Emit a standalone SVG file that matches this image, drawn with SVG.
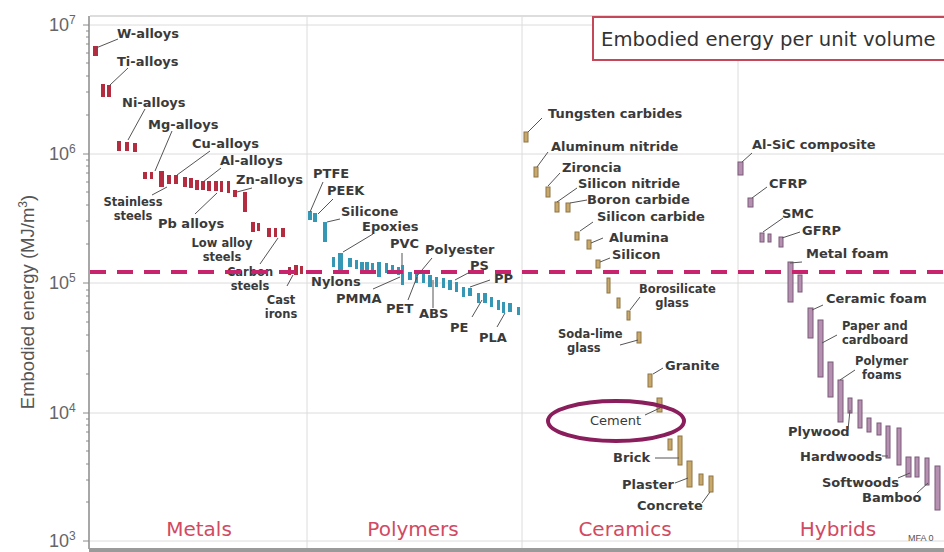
<svg xmlns="http://www.w3.org/2000/svg" width="944" height="552" viewBox="0 0 944 552">
<style>
.grid{stroke:#dcdcdc;stroke-width:1;fill:none}
.axis{stroke:#8a8a8a;stroke-width:1.5;fill:none}
.tick{stroke:#8a8a8a;stroke-width:1}
.tl{font-family:"Liberation Sans",Arial,sans-serif;font-size:18px;fill:#666}
.ts{font-family:"Liberation Sans",Arial,sans-serif;font-size:12px;fill:#666}
.lb{font-family:"DejaVu Sans",sans-serif;font-weight:bold;font-size:13px;fill:#3a3a3a}
.l2{font-size:11.5px}
.cat{font-family:"DejaVu Sans",sans-serif;font-size:20px;fill:#d24a62;text-anchor:middle}
.ld{stroke:#555;stroke-width:1;fill:none}
.m rect{fill:#b32c40}
.p rect{fill:#3597b3}
.c rect{fill:#c9a86c;stroke:#8e7444;stroke-width:1}
.h rect{fill:#b590b0;stroke:#7b5b79;stroke-width:1}
.mid{text-anchor:middle}
</style>
<rect width="944" height="552" fill="#fff"/>
<g id="frame">
<line class="grid" x1="90" y1="16" x2="944" y2="16" style="stroke:#bbb"/>
<line class="grid" x1="90" y1="25" x2="944" y2="25"/>
<line class="grid" x1="90" y1="154" x2="944" y2="154"/>
<line class="grid" x1="90" y1="283" x2="944" y2="283"/>
<line class="grid" x1="90" y1="413" x2="944" y2="413"/>
<line class="grid" x1="90" y1="541" x2="944" y2="541"/>
<line class="grid" x1="307" y1="16" x2="307" y2="548"/>
<line class="grid" x1="522" y1="16" x2="522" y2="548"/>
<line class="grid" x1="738" y1="16" x2="738" y2="548"/>
<line class="axis" x1="89" y1="16" x2="89" y2="549"/>
<rect x="89" y="548" width="855" height="4" fill="#9a9a9a"/>
<g class="tick">
<line x1="83" y1="25" x2="89" y2="25"/><line x1="83" y1="154" x2="89" y2="154"/><line x1="83" y1="283" x2="89" y2="283"/><line x1="83" y1="413" x2="89" y2="413"/><line x1="83" y1="541" x2="89" y2="541"/>
<line x1="86" y1="115" x2="89" y2="115"/><line x1="86" y1="92" x2="89" y2="92"/><line x1="86" y1="76" x2="89" y2="76"/><line x1="86" y1="63" x2="89" y2="63"/><line x1="86" y1="53" x2="89" y2="53"/><line x1="86" y1="44" x2="89" y2="44"/><line x1="86" y1="37" x2="89" y2="37"/><line x1="86" y1="31" x2="89" y2="31"/>
<line x1="86" y1="244" x2="89" y2="244"/><line x1="86" y1="221" x2="89" y2="221"/><line x1="86" y1="205" x2="89" y2="205"/><line x1="86" y1="192" x2="89" y2="192"/><line x1="86" y1="182" x2="89" y2="182"/><line x1="86" y1="173" x2="89" y2="173"/><line x1="86" y1="166" x2="89" y2="166"/><line x1="86" y1="160" x2="89" y2="160"/>
<line x1="86" y1="374" x2="89" y2="374"/><line x1="86" y1="351" x2="89" y2="351"/><line x1="86" y1="335" x2="89" y2="335"/><line x1="86" y1="322" x2="89" y2="322"/><line x1="86" y1="312" x2="89" y2="312"/><line x1="86" y1="303" x2="89" y2="303"/><line x1="86" y1="296" x2="89" y2="296"/><line x1="86" y1="290" x2="89" y2="290"/>
<line x1="86" y1="502" x2="89" y2="502"/><line x1="86" y1="480" x2="89" y2="480"/><line x1="86" y1="464" x2="89" y2="464"/><line x1="86" y1="451" x2="89" y2="451"/><line x1="86" y1="441" x2="89" y2="441"/><line x1="86" y1="432" x2="89" y2="432"/><line x1="86" y1="425" x2="89" y2="425"/><line x1="86" y1="419" x2="89" y2="419"/>
</g>
<text class="tl" x="49" y="31">10<tspan class="ts" dy="-7">7</tspan></text>
<text class="tl" x="49" y="160">10<tspan class="ts" dy="-7">6</tspan></text>
<text class="tl" x="49" y="289">10<tspan class="ts" dy="-7">5</tspan></text>
<text class="tl" x="49" y="419">10<tspan class="ts" dy="-7">4</tspan></text>
<text class="tl" x="49" y="547">10<tspan class="ts" dy="-7">3</tspan></text>
<text transform="translate(34,302) rotate(-90)" text-anchor="middle" style="font-family:'Liberation Sans',Arial,sans-serif;font-size:18.5px;fill:#555">Embodied energy (MJ/m<tspan dy="-7" style="font-size:12px">3</tspan><tspan dy="7">)</tspan></text>
</g>
<g id="title">
<rect x="593" y="17" width="360" height="43" fill="#fff" stroke="#c4485a" stroke-width="2"/>
<text x="601" y="46" style="font-family:'DejaVu Sans',sans-serif;font-size:19.6px;fill:#333">Embodied energy per unit volume</text>
</g>
<g id="metals" class="m">
<rect x="93" y="46" width="5" height="10"/>
<rect x="101" y="84" width="4" height="13"/><rect x="107" y="85" width="4" height="12"/>
<rect x="117" y="141" width="4" height="10"/><rect x="125" y="142" width="4" height="9"/><rect x="133" y="143" width="4" height="9"/>
<rect x="143" y="172" width="4" height="7"/><rect x="150" y="172" width="3" height="7"/><rect x="159" y="171" width="5" height="16"/><rect x="167" y="175" width="4" height="9"/><rect x="174" y="175" width="4" height="9"/><rect x="183" y="177" width="4" height="10"/><rect x="189" y="178" width="4" height="10"/><rect x="195" y="180" width="4" height="10"/><rect x="201" y="181" width="4" height="9"/><rect x="207" y="181" width="4" height="10"/><rect x="214" y="181" width="4" height="10"/><rect x="220" y="181" width="3" height="11"/><rect x="227" y="181" width="3" height="12"/><rect x="233" y="190" width="4" height="7"/><rect x="243" y="192" width="4" height="20"/>
<rect x="251" y="222" width="4" height="10"/><rect x="257" y="223" width="3" height="8"/><rect x="267" y="228" width="4" height="9"/><rect x="274" y="228" width="3" height="9"/><rect x="281" y="228" width="4" height="9"/>
<rect x="288" y="267" width="3" height="8"/><rect x="294" y="265" width="4" height="10"/><rect x="300" y="266" width="3" height="8"/>
</g>
<g id="polymers" class="p">
<rect x="308" y="211" width="4" height="9"/><rect x="313" y="213" width="4" height="9"/><rect x="323" y="222" width="4" height="20"/>
<rect x="332" y="257" width="3" height="10"/><rect x="338" y="253" width="5" height="17"/><rect x="348" y="258" width="4" height="9"/><rect x="355" y="260" width="3" height="9"/><rect x="360" y="262" width="4" height="10"/><rect x="365" y="262" width="4" height="10"/><rect x="371" y="263" width="3" height="10"/><rect x="377" y="262" width="4" height="15"/><rect x="385" y="263" width="3" height="10"/><rect x="391" y="265" width="3" height="8"/><rect x="397" y="267" width="3" height="8"/><rect x="401" y="265" width="3" height="20"/><rect x="408" y="272" width="4" height="8"/><rect x="415" y="272" width="3" height="11"/><rect x="422" y="273" width="3" height="10"/><rect x="428" y="275" width="4" height="12"/><rect x="435" y="277" width="3" height="10"/><rect x="442" y="278" width="3" height="10"/><rect x="448" y="280" width="4" height="10"/><rect x="455" y="282" width="3" height="10"/><rect x="462" y="287" width="3" height="10"/><rect x="468" y="288" width="4" height="8"/><rect x="477" y="293" width="3" height="10"/><rect x="483" y="293" width="4" height="10"/><rect x="490" y="297" width="3" height="10"/><rect x="497" y="300" width="3" height="10"/><rect x="502" y="302" width="3" height="11"/><rect x="508" y="303" width="4" height="9"/><rect x="517" y="307" width="3" height="8"/>
</g>
<g id="ceramics" class="c">
<rect x="524" y="132" width="4" height="10"/>
<rect x="534" y="167" width="4" height="10"/>
<rect x="546" y="187" width="4" height="10"/>
<rect x="555" y="202" width="4" height="10"/><rect x="566" y="203" width="4" height="9"/>
<rect x="575" y="232" width="4" height="8"/><rect x="587" y="240" width="4" height="9"/><rect x="596" y="260" width="4" height="8"/>
<rect x="607" y="278" width="3" height="15"/><rect x="617" y="298" width="3" height="10"/><rect x="627" y="311" width="3" height="9"/><rect x="637" y="332" width="4" height="11"/>
<rect x="648" y="374" width="4" height="13"/><rect x="657" y="398" width="5" height="14"/>
<rect x="668" y="439" width="4" height="11"/><rect x="678" y="436" width="4" height="29"/><rect x="687" y="461" width="5" height="26"/><rect x="699" y="474" width="4" height="11"/><rect x="709" y="476" width="4" height="16"/>
</g>
<g id="hybrids" class="h">
<rect x="738" y="162" width="5" height="13"/>
<rect x="748" y="198" width="5" height="9"/>
<rect x="760" y="233" width="4" height="9"/><rect x="768" y="234" width="3" height="8"/><rect x="779" y="237" width="4" height="10"/>
<rect x="788" y="262" width="5" height="40"/><rect x="798" y="275" width="4" height="17"/>
<rect x="808" y="308" width="5" height="30"/><rect x="818" y="320" width="5" height="57"/><rect x="828" y="362" width="5" height="35"/><rect x="838" y="380" width="5" height="42"/><rect x="848" y="398" width="4" height="15"/><rect x="858" y="400" width="4" height="28"/><rect x="867" y="418" width="4" height="14"/><rect x="877" y="423" width="4" height="12"/><rect x="886" y="426" width="4" height="32"/><rect x="897" y="428" width="4" height="37"/><rect x="906" y="457" width="5" height="20"/><rect x="915" y="457" width="4" height="20"/><rect x="925" y="458" width="4" height="27"/><rect x="935" y="466" width="5" height="44"/>
</g>
<g id="labels">
<text class="lb" x="117" y="38">W-alloys</text>
<text class="lb" x="117" y="66">Ti-alloys</text>
<text class="lb" x="122" y="107">Ni-alloys</text>
<text class="lb" x="148" y="129">Mg-alloys</text>
<text class="lb" x="192" y="148">Cu-alloys</text>
<text class="lb" x="220" y="165">Al-alloys</text>
<text class="lb" x="236" y="184">Zn-alloys</text>
<text class="lb l2 mid" x="133" y="206">Stainless<tspan x="133" dy="14">steels</tspan></text>
<text class="lb" x="158" y="228">Pb alloys</text>
<text class="lb l2 mid" x="222" y="247">Low alloy<tspan x="222" dy="14">steels</tspan></text>
<text class="lb l2 mid" x="250" y="276">Carbon<tspan x="250" dy="14">steels</tspan></text>
<text class="lb l2 mid" x="281" y="304">Cast<tspan x="281" dy="14">irons</tspan></text>
<text class="lb" x="313" y="178">PTFE</text>
<text class="lb" x="327" y="195">PEEK</text>
<text class="lb" x="341" y="216">Silicone</text>
<text class="lb" x="362" y="231">Epoxies</text>
<text class="lb" x="390" y="248">PVC</text>
<text class="lb" x="425" y="254">Polyester</text>
<text class="lb" x="470" y="270">PS</text>
<text class="lb" x="494" y="283">PP</text>
<text class="lb" x="311" y="286">Nylons</text>
<text class="lb" x="336" y="303">PMMA</text>
<text class="lb" x="386" y="313">PET</text>
<text class="lb" x="419" y="318">ABS</text>
<text class="lb" x="450" y="332">PE</text>
<text class="lb" x="479" y="342">PLA</text>
<text class="lb" x="548" y="118">Tungsten carbides</text>
<text class="lb" x="551" y="151">Aluminum nitride</text>
<text class="lb" x="562" y="172">Zironcia</text>
<text class="lb" x="578" y="188">Silicon nitride</text>
<text class="lb" x="587" y="204">Boron carbide</text>
<text class="lb" x="597" y="221">Silicon carbide</text>
<text class="lb" x="609" y="242">Alumina</text>
<text class="lb" x="612" y="259">Silicon</text>
<text class="lb l2" x="639" y="293">Borosilicate<tspan x="672" dy="14" text-anchor="middle">glass</tspan></text>
<text class="lb l2" x="558" y="338">Soda-lime<tspan x="567" dy="14">glass</tspan></text>
<text class="lb" x="665" y="370">Granite</text>
<text class="lb" x="590" y="425" style="font-weight:normal">Cement</text>
<text class="lb" x="613" y="462">Brick</text>
<text class="lb" x="622" y="489">Plaster</text>
<text class="lb" x="637" y="510">Concrete</text>
<text class="lb" x="752" y="149">Al-SiC composite</text>
<text class="lb" x="769" y="188">CFRP</text>
<text class="lb" x="782" y="218">SMC</text>
<text class="lb" x="802" y="235">GFRP</text>
<text class="lb" x="806" y="258">Metal foam</text>
<text class="lb" x="826" y="303">Ceramic foam</text>
<text class="lb l2" x="842" y="330">Paper and<tspan x="842" dy="14">cardboard</tspan></text>
<text class="lb l2" x="855" y="365">Polymer<tspan x="862" dy="14">foams</tspan></text>
<text class="lb" x="788" y="436">Plywood</text>
<text class="lb" x="800" y="461">Hardwoods</text>
<text class="lb" x="822" y="487">Softwoods</text>
<text class="lb" x="862" y="502">Bamboo</text>
<text class="cat" x="199" y="536">Metals</text>
<text class="cat" x="413" y="536">Polymers</text>
<text class="cat" x="625" y="536">Ceramics</text>
<text class="cat" x="838" y="536">Hybrids</text>
<text x="908" y="541" style="font-family:'Liberation Sans',Arial,sans-serif;font-size:9px;fill:#555">MFA 0</text>
</g>
<g id="connectors">
<line x1="90" y1="272" x2="944" y2="272" stroke="#c8246e" stroke-width="4" stroke-dasharray="16 11"/>
<g class="ld">
<line x1="96" y1="48" x2="118" y2="39"/>
<line x1="110" y1="85" x2="128" y2="68"/>
<line x1="128" y1="140" x2="145" y2="109"/>
<line x1="155" y1="171" x2="172" y2="131"/>
<line x1="177" y1="175" x2="210" y2="151"/>
<line x1="203" y1="182" x2="221" y2="168"/>
<line x1="237" y1="192" x2="252" y2="188"/>
<line x1="152" y1="195" x2="167" y2="187"/>
<line x1="195" y1="214" x2="217" y2="193"/>
<line x1="260" y1="264" x2="278" y2="238"/>
<line x1="287" y1="286" x2="293" y2="275"/>
<line x1="310" y1="212" x2="323" y2="182"/>
<line x1="318" y1="214" x2="333" y2="199"/>
<line x1="327" y1="222" x2="340" y2="219"/>
<line x1="343" y1="252" x2="373" y2="234"/>
<line x1="402" y1="265" x2="402" y2="253"/>
<line x1="417" y1="276" x2="432" y2="258"/>
<line x1="455" y1="280" x2="470" y2="272"/>
<line x1="470" y1="287" x2="490" y2="280"/>
<line x1="373" y1="289" x2="400" y2="277"/>
<line x1="408" y1="300" x2="417" y2="277"/>
<line x1="433" y1="308" x2="433" y2="280"/>
<line x1="472" y1="317" x2="482" y2="300"/>
<line x1="497" y1="327" x2="505" y2="313"/>
<line x1="528" y1="132" x2="542" y2="118"/>
<line x1="537" y1="167" x2="548" y2="152"/>
<line x1="548" y1="186" x2="560" y2="173"/>
<line x1="557" y1="202" x2="577" y2="188"/>
<line x1="570" y1="203" x2="587" y2="200"/>
<line x1="580" y1="231" x2="593" y2="222"/>
<line x1="591" y1="243" x2="603" y2="238"/>
<line x1="600" y1="262" x2="610" y2="258"/>
<line x1="630" y1="310" x2="640" y2="297"/>
<line x1="620" y1="345" x2="638" y2="340"/>
<line x1="653" y1="374" x2="663" y2="368"/>
<line x1="645" y1="415" x2="660" y2="408"/>
<line x1="655" y1="458" x2="679" y2="458"/>
<line x1="675" y1="483" x2="688" y2="478"/>
<line x1="702" y1="503" x2="710" y2="492"/>
<line x1="742" y1="162" x2="752" y2="153"/>
<line x1="752" y1="198" x2="767" y2="187"/>
<line x1="763" y1="232" x2="783" y2="218"/>
<line x1="782" y1="238" x2="800" y2="232"/>
<line x1="790" y1="263" x2="802" y2="262"/>
<line x1="812" y1="310" x2="823" y2="305"/>
<line x1="822" y1="343" x2="837" y2="335"/>
<line x1="840" y1="380" x2="855" y2="370"/>
<line x1="848" y1="430" x2="850" y2="410"/>
<line x1="882" y1="456" x2="888" y2="456"/>
<line x1="898" y1="478" x2="910" y2="473"/>
<line x1="917" y1="493" x2="928" y2="483"/>
</g>
</g>
<g id="highlight">
<ellipse cx="616" cy="421" rx="68" ry="20" fill="none" stroke="#8a1d5c" stroke-width="4"/>
</g>
</svg>
